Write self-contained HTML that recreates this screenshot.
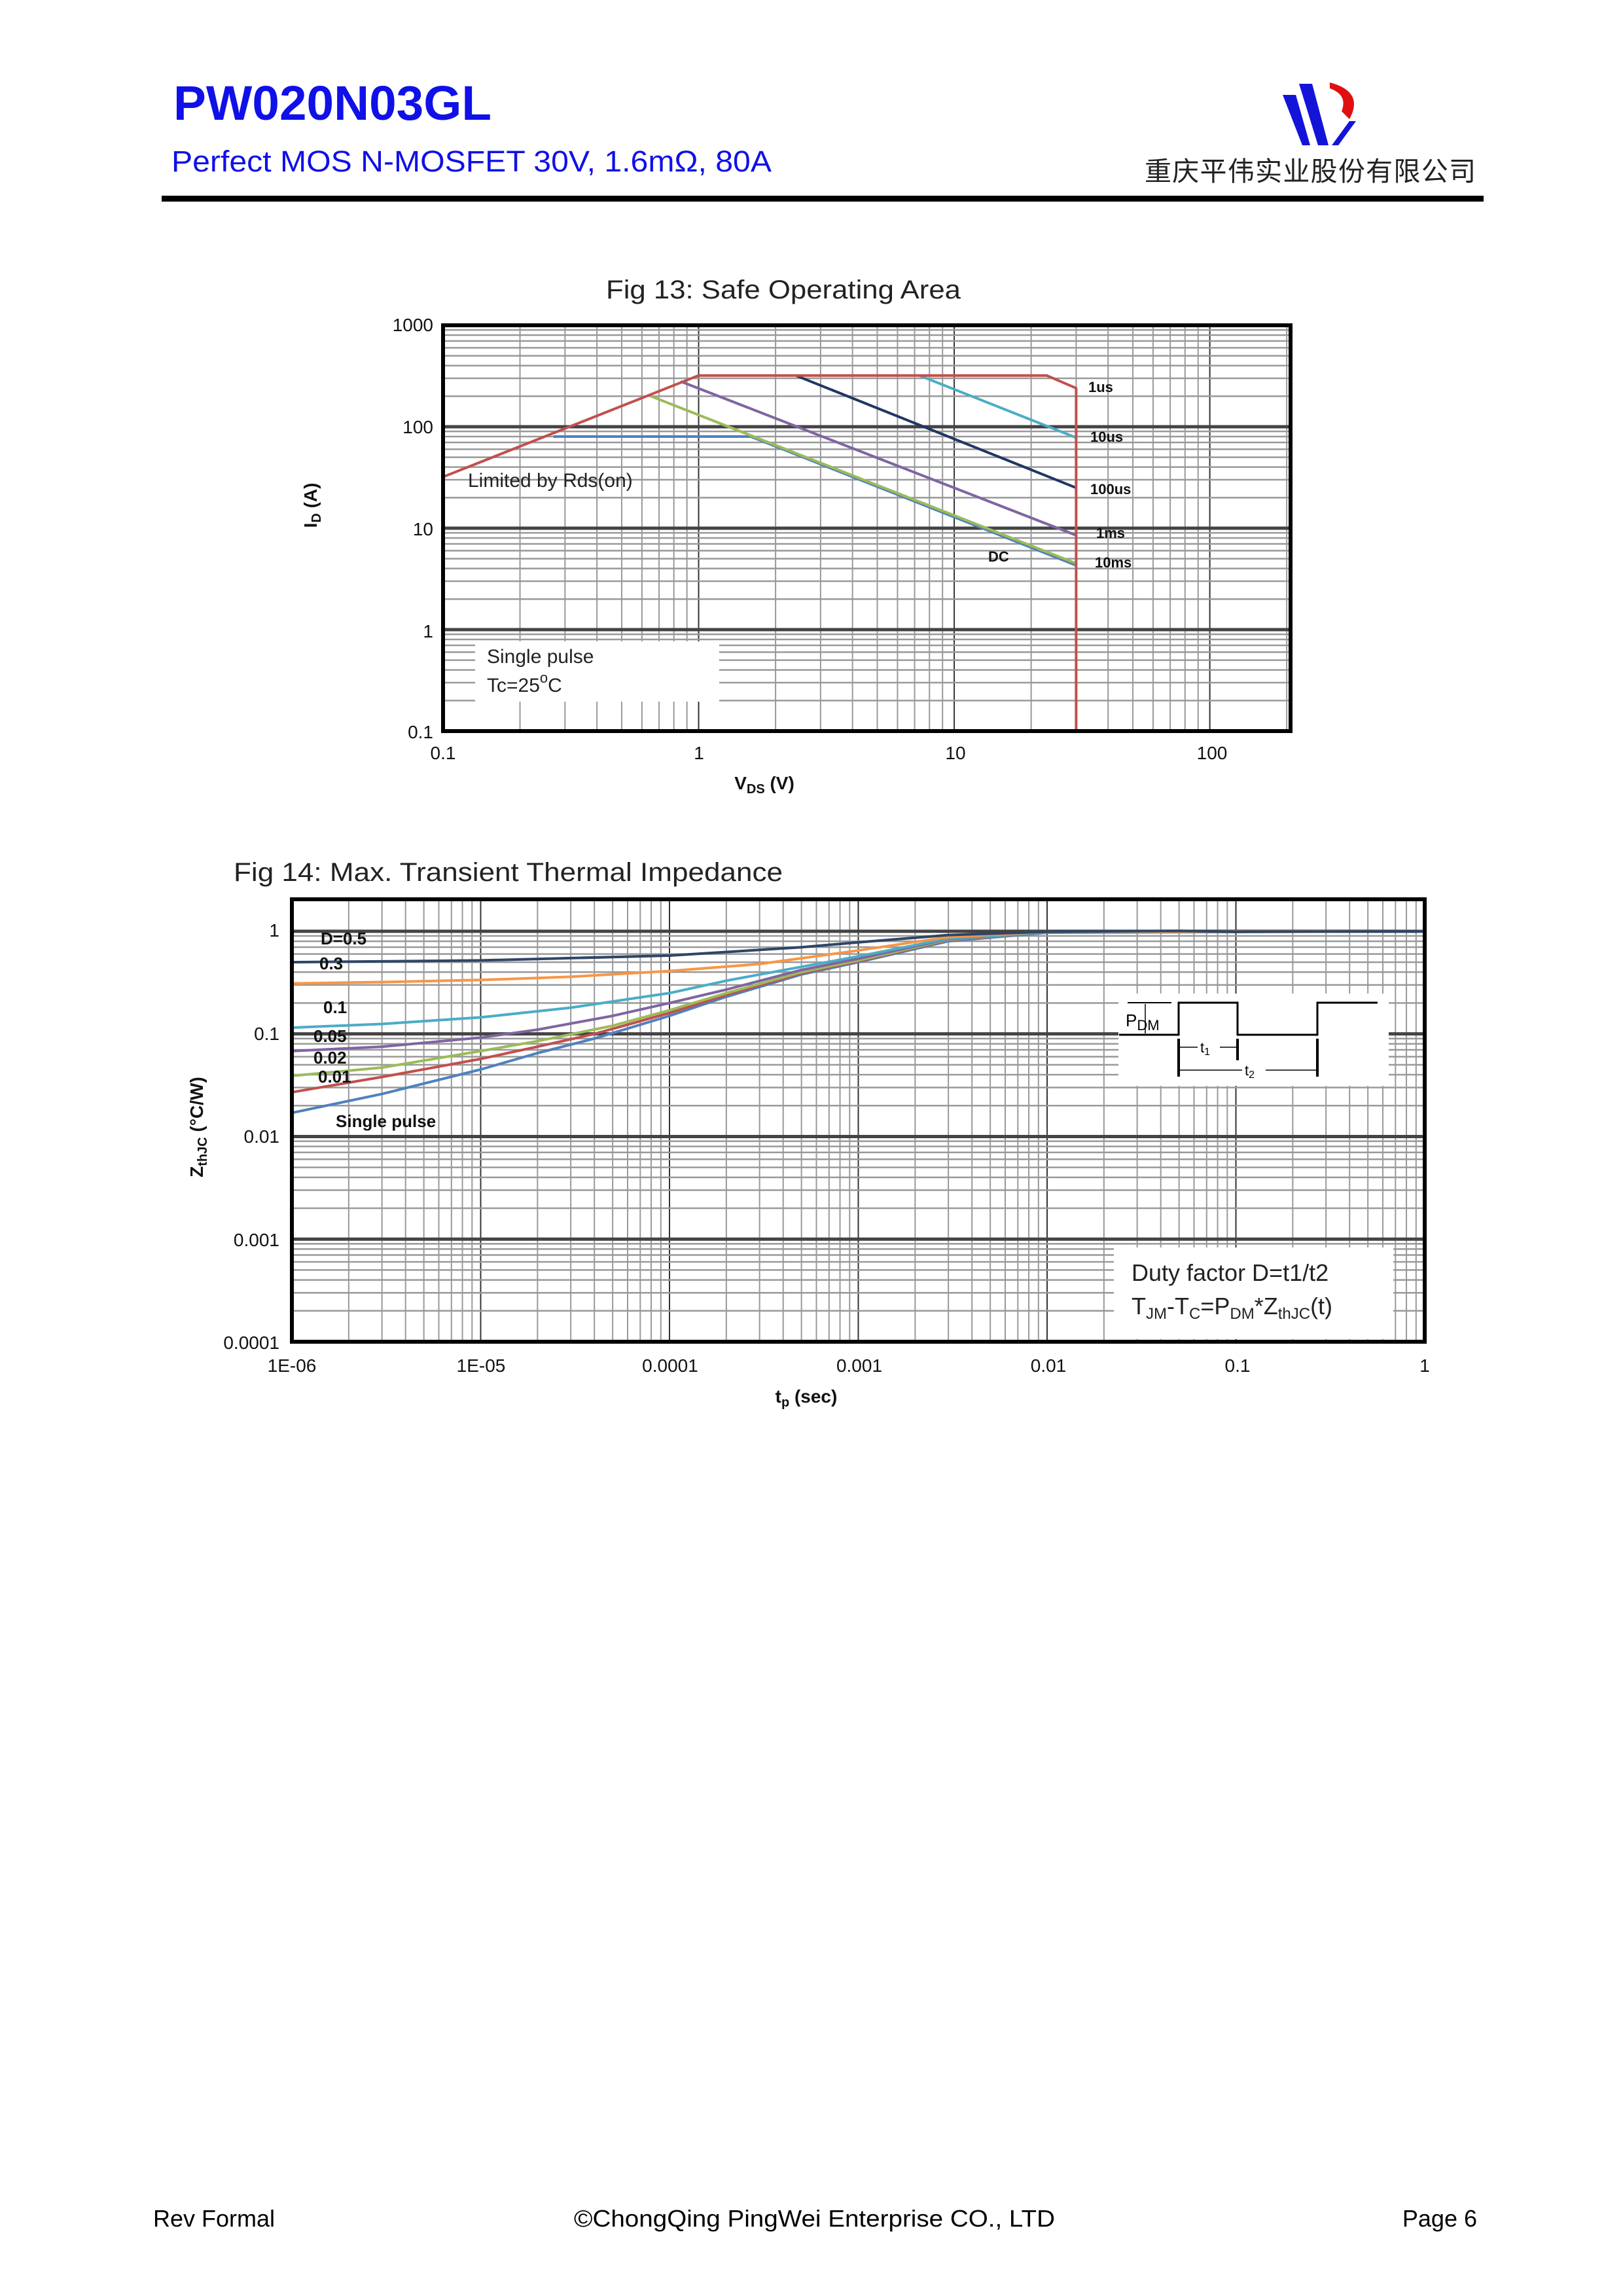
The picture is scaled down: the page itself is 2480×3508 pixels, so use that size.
<!DOCTYPE html>
<html><head><meta charset="utf-8"><style>
html,body{margin:0;padding:0;background:#fff}
svg{display:block}
text{font-family:"Liberation Sans","Noto Sans CJK SC",sans-serif}
</style></head><body>
<svg id="s" xmlns="http://www.w3.org/2000/svg" width="2480" height="3508" viewBox="0 0 2480 3508">
<rect width="2480" height="3508" fill="#fff"/>
<!-- header -->
<text x="265" y="183" font-size="74" font-weight="bold" fill="#1010e8" textLength="486" lengthAdjust="spacingAndGlyphs">PW020N03GL</text>
<text x="262" y="262" font-size="45" fill="#1010e8" textLength="917" lengthAdjust="spacingAndGlyphs">Perfect MOS N-MOSFET 30V, 1.6mΩ, 80A</text>
<text x="1749" y="276" font-size="41" fill="#222" font-family="'Noto Serif CJK SC',serif" textLength="506">重庆平伟实业股份有限公司</text>
<polygon points="1960,145 1980,145 2002,222 1990,222" fill="#1414d8"/>
<polygon points="1985,128 2005,128 2030,222 2014,222" fill="#1414d8"/>
<polygon points="2062,185 2072,185 2045,222 2035,222" fill="#1414d8"/>
<path d="M2032,126 Q2085,140 2062,182 L2050,170 Q2060,145 2032,135 Z" fill="#e01010"/>
<rect x="247" y="299" width="2020" height="9" fill="#000"/>
<g id="g13"></g>
<g id="g14"></g>
<!-- Fig13 text -->
<text x="926" y="456" font-size="40" fill="#222" textLength="542" lengthAdjust="spacingAndGlyphs">Fig 13: Safe Operating Area</text>
<g font-size="28" fill="#111" text-anchor="end">
<text x="662" y="506">1000</text><text x="662" y="662">100</text><text x="662" y="818">10</text><text x="662" y="974">1</text><text x="662" y="1128">0.1</text>
</g>
<g font-size="28" fill="#111" text-anchor="middle">
<text x="677" y="1160">0.1</text><text x="1068" y="1160">1</text><text x="1460" y="1160">10</text><text x="1852" y="1160">100</text>
</g>
<text x="1168" y="1206" font-size="28" font-weight="bold" text-anchor="middle" fill="#111">V<tspan font-size="20" dy="6">DS</tspan><tspan dy="-6"> (V)</tspan></text>
<text transform="translate(484,772) rotate(-90)" font-size="28" font-weight="bold" text-anchor="middle" fill="#111">I<tspan font-size="20" dy="6">D</tspan><tspan dy="-6"> (A)</tspan></text>
<rect x="726" y="980" width="373" height="92" fill="#fff"/>
<text x="744" y="1013" font-size="30" fill="#222">Single pulse</text>
<text x="744" y="1057" font-size="30" fill="#222">Tc=25<tspan font-size="22" dy="-14">o</tspan><tspan dy="14">C</tspan></text>
<text x="715" y="744" font-size="30" fill="#222">Limited by Rds(on)</text>
<g font-size="22" font-weight="bold" fill="#111">
<text x="1663" y="599">1us</text><text x="1666" y="675">10us</text><text x="1666" y="755">100us</text><text x="1675" y="822">1ms</text><text x="1673" y="867">10ms</text><text x="1510" y="858">DC</text>
</g>
<!-- Fig14 text -->
<text x="357" y="1346" font-size="40" fill="#222" textLength="839" lengthAdjust="spacingAndGlyphs">Fig 14: Max. Transient Thermal Impedance</text>
<g font-size="28" fill="#111" text-anchor="end">
<text x="427" y="1431">1</text><text x="427" y="1589">0.1</text><text x="427" y="1746">0.01</text><text x="427" y="1904">0.001</text><text x="427" y="2061">0.0001</text>
</g>
<g font-size="28" fill="#111" text-anchor="middle">
<text x="446" y="2096">1E-06</text><text x="735" y="2096">1E-05</text><text x="1024" y="2096">0.0001</text><text x="1313" y="2096">0.001</text><text x="1602" y="2096">0.01</text><text x="1891" y="2096">0.1</text><text x="2177" y="2096">1</text>
</g>
<text x="1232" y="2143" font-size="28" font-weight="bold" text-anchor="middle" fill="#111">t<tspan font-size="20" dy="6">p</tspan><tspan dy="-6"> (sec)</tspan></text>
<text transform="translate(310,1722) rotate(-90)" font-size="28" font-weight="bold" text-anchor="middle" fill="#111">Z<tspan font-size="20" dy="6">thJC</tspan><tspan dy="-6"> (°C/W)</tspan></text>
<g font-size="26" font-weight="bold" fill="#111">
<text x="490" y="1443">D=0.5</text><text x="488" y="1481">0.3</text><text x="494" y="1548">0.1</text><text x="479" y="1592">0.05</text><text x="479" y="1625">0.02</text><text x="486" y="1654">0.01</text><text x="513" y="1722">Single pulse</text>
</g>
<!-- pulse inset -->
<rect x="1709" y="1518" width="413" height="141" fill="#fff"/>
<g stroke="#000" fill="none">
<path d="M1710,1581 H1801 V1532 H1891 V1581 H2013 V1532 H2105" stroke-width="3"/>
<path d="M1723,1532 H1790" stroke-width="2"/>
<path d="M1750,1534 V1579" stroke-width="1.5"/>
<path d="M1801,1587 V1645 M1891,1587 V1620 M2013,1587 V1645" stroke-width="4"/>
<path d="M1803,1600 H1889 M1803,1635 H2011" stroke-width="1.5"/>
</g>
<text x="1720" y="1568" font-size="26" fill="#000">P<tspan font-size="22" dy="6">DM</tspan></text>
<rect x="1830" y="1590" width="34" height="20" fill="#fff"/><text x="1834" y="1608" font-size="22">t<tspan font-size="16" dy="4">1</tspan></text>
<rect x="1898" y="1625" width="36" height="20" fill="#fff"/><text x="1902" y="1643" font-size="22">t<tspan font-size="16" dy="4">2</tspan></text>
<!-- duty box -->
<rect x="1702" y="1906" width="427" height="140" fill="#fff"/>
<text x="1729" y="1957" font-size="36" fill="#222">Duty factor D=t1/t2</text>
<text x="1729" y="2008" font-size="36" fill="#222">T<tspan font-size="24" dy="7">JM</tspan><tspan dy="-7">-T</tspan><tspan font-size="24" dy="7">C</tspan><tspan dy="-7">=P</tspan><tspan font-size="24" dy="7">DM</tspan><tspan dy="-7">*Z</tspan><tspan font-size="24" dy="7">thJC</tspan><tspan dy="-7">(t)</tspan></text>
<!-- footer -->
<text x="234" y="3402" font-size="36" fill="#000">Rev Formal</text>
<text x="877" y="3402" font-size="36" fill="#000" textLength="735" lengthAdjust="spacingAndGlyphs">©ChongQing PingWei Enterprise CO., LTD</text>
<text x="2257" y="3402" font-size="36" fill="#000" text-anchor="end">Page 6</text>
</svg>
<script>
var NS="http://www.w3.org/2000/svg";
function add(p,t,a){var e=document.createElementNS(NS,t);for(var k in a)e.setAttribute(k,a[k]);p.appendChild(e);return e;}
function chart(g,L,R,T,B,xmin,xmax,ymin,ymax,series){
  var X=function(v){return L+(Math.log10(v)-Math.log10(xmin))/(Math.log10(xmax)-Math.log10(xmin))*(R-L);};
  var Y=function(v){return B-(Math.log10(v)-Math.log10(ymin))/(Math.log10(ymax)-Math.log10(ymin))*(B-T);};
  var grid=add(g,'g',{});
  for(var d=Math.floor(Math.log10(xmin));d<=Math.ceil(Math.log10(xmax));d++)for(var m=1;m<10;m++){var v=m*Math.pow(10,d);if(v<xmin*0.999||v>xmax*1.001)continue;var x=X(v);
    add(grid,'line',{x1:x,x2:x,y1:T,y2:B,stroke:m==1?'#333':'#999','stroke-width':2});}
  for(var d=Math.floor(Math.log10(ymin));d<=Math.ceil(Math.log10(ymax));d++)for(var m=1;m<10;m++){var v=m*Math.pow(10,d);if(v<ymin*0.999||v>ymax*1.001)continue;var y=Y(v);
    add(grid,'line',{x1:L,x2:R,y1:y,y2:y,stroke:m==1?'#444':'#999','stroke-width':m==1?5:2.5});}
  series.forEach(function(s){var d='';s.p.forEach(function(q,i){d+=(i?'L':'M')+X(q[0]).toFixed(1)+','+Y(q[1]).toFixed(1);});
    add(g,'path',{d:d,fill:'none',stroke:s.c,'stroke-width':s.w||4,'stroke-linejoin':'round'});});
  add(g,'rect',{x:L,y:T,width:R-L,height:B-T,fill:'none',stroke:'#000','stroke-width':6});
}
chart(document.getElementById('g13'),677,1972,497,1117,0.1,207,0.1,1000,[
 {c:'#4f81bd',p:[[0.27,80],[1.6,80],[30,4.3]]},
 {c:'#9bbb59',p:[[0.65,200],[30,4.5]]},
 {c:'#8064a2',p:[[0.85,280],[30,8.5]]},
 {c:'#1f3864',p:[[2.4,320],[30,25]]},
 {c:'#4bacc6',p:[[7.3,320],[30,78]]},
 {c:'#c0504d',p:[[0.1,32],[1,320],[23,320],[30,240],[30,0.1]]}
]);
chart(document.getElementById('g14'),446,2177,1374,2050,1e-6,1,1e-4,2.05,[
 {c:'#4f81bd',p:[[1e-6,0.017],[3e-6,0.026],[1e-5,0.045],[2e-5,0.065],[4e-5,0.09],[1e-4,0.15],[2e-4,0.23],[5e-4,0.38],[1e-3,0.5],[3e-3,0.8],[1e-2,0.97],[1,1]]},
 {c:'#c0504d',p:[[1e-6,0.027],[3e-6,0.038],[1e-5,0.057],[2e-5,0.075],[4e-5,0.1],[1e-4,0.16],[2e-4,0.24],[5e-4,0.39],[1e-3,0.51],[3e-3,0.82],[1e-2,0.98],[1,1]]},
 {c:'#9bbb59',p:[[1e-6,0.039],[3e-6,0.047],[1e-5,0.068],[2e-5,0.085],[5e-5,0.12],[1e-4,0.17],[2e-4,0.25],[5e-4,0.4],[1e-3,0.52],[3e-3,0.83],[1e-2,0.98],[1,1]]},
 {c:'#8064a2',p:[[1e-6,0.068],[3e-6,0.075],[1e-5,0.092],[2e-5,0.11],[5e-5,0.15],[1e-4,0.2],[2e-4,0.27],[5e-4,0.42],[1e-3,0.54],[3e-3,0.84],[1e-2,0.98],[1,1]]},
 {c:'#4bacc6',p:[[1e-6,0.115],[3e-6,0.125],[1e-5,0.145],[3e-5,0.18],[1e-4,0.25],[2e-4,0.33],[5e-4,0.45],[1e-3,0.57],[3e-3,0.85],[1e-2,0.98],[1,1]]},
 {c:'#f79646',p:[[1e-6,0.31],[3e-6,0.32],[1e-5,0.335],[3e-5,0.36],[1e-4,0.41],[3e-4,0.48],[1e-3,0.65],[3e-3,0.88],[1e-2,0.99],[1,1]]},
 {c:'#2e4566',p:[[1e-6,0.5],[1e-5,0.52],[1e-4,0.58],[5e-4,0.7],[1e-3,0.78],[3e-3,0.92],[1e-2,0.99],[0.05,1.01],[0.1,0.99],[1,1]]}
]);
</script>
</body></html>
